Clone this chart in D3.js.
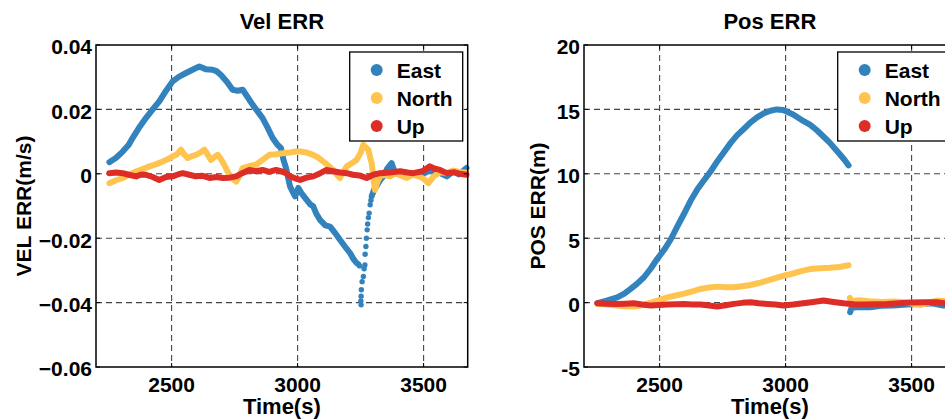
<!DOCTYPE html>
<html lang="en">
<head>
<meta charset="utf-8">
<title>Vel / Pos ERR</title>
<script src="https://cdn.jsdelivr.net/npm/d3@7"></script>
<style>
body { margin: 0; background: #fff; }
svg text { font-family: "Liberation Sans", Arial, sans-serif; font-weight: bold; fill: #000; }
</style>
</head>
<body>
<div id="vis"></div>
<script>

/* Data */
/* =========================== */

var xTicks = [2500, 3000, 3500];
var velTicks = [-0.06, -0.04, -0.02, 0, 0.02, 0.04];
var posTicks = [-5, 0, 5, 10, 15, 20];
var seriesNames = ['East', 'North', 'Up'];
var seriesColors = ['#3182bd', '#fec44f', '#de2d26'];

// velocity error, [time s, value *1e-3 m/s]
var velEast = [[2253,3.6],[2280,5.0],[2306,6.9],[2330,9.0],[2345,11.1],[2370,14.2],[2398,17.3],[2425,20.0],[2451,22.5],[2478,25.8],
	[2504,28.7],[2530,30.2],[2557,31.3],[2585,32.4],[2610,33.3],[2635,32.5],[2663,32.3],[2680,31.8],[2696,30.7],[2720,28.5],
	[2742,26.1],[2762,25.8],[2782,26.1],[2800,24.0],[2822,21.4],[2840,19.5],[2861,17.3],[2880,14.5],[2901,11.1],[2920,9.0],
	[2934,8.0],[2944,4.3],[2954,1.8],[2970,-3.9],[2980,-5.5],[2990,-7.0],[3003,-4.4],[3015,-6.0],[3036,-8.1],[3050,-9.5],
	[3062,-10.1],[3075,-12.5],[3089,-14.3],[3110,-16.0],[3129,-16.4],[3150,-18.5],[3168,-20.5],[3190,-22.8],[3208,-24.6],[3222,-26.5],
	[3234,-27.7],[3240,-28.0]];
var velEastSparse = [[3246,-28.6],[3251,-39.5],[3252,-40.7],[3252,-38.0],[3253,-36.0],[3256,-33.5],[3261,-31.9],[3264,-29.5],
	[3267,-28.3],[3268,-25.0],[3271,-22.6],[3273,-20.0],[3276,-17.4],[3278,-15.6],[3281,-13.6],[3284,-12.2],[3288,-9.6],[3291,-8.2]];
var velEastTail = [[3294,-7.0],[3303,-5.0],[3313,-3.9],[3327,-2.0],[3340,-0.8],[3355,1.5],[3373,3.3],[3387,0.2],[3405,-0.3],
	[3425,0.5],[3447,-0.5],[3470,0.3],[3495,-0.2],[3525,1.2],[3545,0.6],[3565,0.2],[3592,-0.8],[3618,0.8],[3640,-0.2],[3670,1.8]];
var velNorth = [[2253,-2.9],[2280,-2.0],[2306,-1.3],[2330,-0.3],[2359,0.7],[2385,1.5],[2412,2.3],[2440,3.0],[2465,3.8],[2485,4.5],
	[2504,5.4],[2520,6.0],[2537,7.5],[2550,6.0],[2564,4.9],[2580,5.5],[2597,5.9],[2612,6.5],[2630,7.5],[2643,6.0],
	[2656,4.3],[2670,5.2],[2683,5.9],[2696,4.5],[2709,2.8],[2720,1.0],[2729,-0.3],[2742,-1.5],[2756,-2.4],[2770,-0.5],
	[2782,1.8],[2808,2.4],[2835,2.8],[2861,4.3],[2888,5.9],[2914,6.1],[2941,6.4],[2970,6.6],[2994,6.9],[3010,6.9],
	[3036,6.6],[3062,5.9],[3082,5.0],[3102,3.8],[3122,2.5],[3142,1.2],[3155,-0.2],[3168,-1.3],[3182,0.8],[3195,2.3],
	[3215,3.3],[3234,4.3],[3250,6.5],[3261,9.0],[3271,8.2],[3281,7.5],[3288,5.0],[3294,3.3],[3300,-1.0],[3307,-5.0],
	[3317,-2.5],[3327,-0.8],[3345,-0.3],[3367,-0.8],[3390,0.2],[3410,-0.5],[3433,-1.3],[3455,-0.2],[3480,-0.8],[3500,-1.5],
	[3519,-2.9],[3540,-0.8],[3565,0.5],[3590,0.2],[3618,1.0],[3645,0.6],[3670,0.3]];
var velUp = [[2253,0.2],[2280,0.4],[2306,0.2],[2330,-0.3],[2359,-0.8],[2380,-0.2],[2398,-0.3],[2425,-1.0],[2451,-1.9],[2478,-1.0],
	[2504,-0.8],[2525,-0.2],[2544,0.2],[2570,-0.3],[2597,-0.8],[2620,-0.6],[2650,-1.3],[2680,-1.0],[2703,-1.3],[2730,-1.2],
	[2756,-0.8],[2780,0.2],[2808,1.2],[2835,0.8],[2861,1.2],[2888,0.6],[2914,1.2],[2935,0.8],[2954,0.2],[2970,-0.8],
	[2990,-1.4],[3010,-1.9],[3036,-1.2],[3062,-0.8],[3090,0.2],[3115,1.2],[3140,0.8],[3168,0.4],[3195,0.2],[3220,-0.3],
	[3245,-0.5],[3274,-1.3],[3300,-0.3],[3327,0.2],[3365,0.4],[3407,0.8],[3435,0.4],[3460,0.2],[3495,0.8],[3525,2.3],
	[3545,1.6],[3565,1.2],[3592,0.2],[3620,0.5],[3645,0.0],[3670,-0.3]];

// position error, [time s, value m]
var posEast = [[2253,-0.05],[2290,0.15],[2332,0.4],[2360,0.7],[2385,1.06],[2410,1.45],[2438,1.97],[2465,2.65],[2491,3.4],[2518,4.1],
	[2544,4.9],[2570,5.9],[2597,6.9],[2623,7.9],[2650,8.8],[2676,9.5],[2703,10.2],[2730,11.0],[2756,11.7],[2782,12.4],
	[2808,13.0],[2835,13.5],[2861,14.0],[2888,14.4],[2914,14.7],[2940,14.9],[2965,15.0],[2990,14.95],[3030,14.6],[3070,14.1],
	[3098,13.8],[3123,13.4],[3150,12.9],[3176,12.4],[3196,11.95],[3216,11.5],[3235,11.05],[3250,10.65]];
var posEastTail = [[3256,-0.75],[3262,-0.4],[3290,-0.35],[3335,-0.36],[3380,-0.25],[3428,-0.23],[3480,-0.15],[3533,-0.1],[3580,-0.05],
	[3626,-0.23],[3660,-0.15]];
var posNorth = [[2253,-0.1],[2290,-0.15],[2332,-0.23],[2365,-0.28],[2398,-0.3],[2430,-0.2],[2465,0.0],[2498,0.2],[2531,0.4],[2564,0.55],
	[2597,0.7],[2630,0.88],[2663,1.06],[2696,1.18],[2729,1.24],[2762,1.2],[2795,1.19],[2828,1.27],[2861,1.37],[2894,1.52],
	[2927,1.7],[2960,1.9],[2994,2.1],[3018,2.2],[3057,2.42],[3097,2.6],[3136,2.66],[3176,2.7],[3214,2.76],[3250,2.9]];
var posNorthTail = [[3255,0.36],[3262,0.1],[3290,0.18],[3330,0.1],[3380,0.05],[3430,0.08],[3480,0.0],[3533,-0.2],[3580,0.05],
	[3600,0.15],[3640,0.12],[3670,0.05]];
var posUp = [[2253,-0.05],[2290,-0.08],[2332,-0.1],[2365,-0.08],[2398,-0.05],[2430,-0.15],[2465,-0.23],[2498,-0.18],[2531,-0.15],[2564,-0.12],
	[2597,-0.1],[2630,-0.14],[2663,-0.15],[2696,-0.22],[2729,-0.3],[2762,-0.2],[2795,-0.1],[2828,-0.02],[2861,0.03],[2894,-0.05],
	[2927,-0.1],[2960,-0.15],[2990,-0.23],[3030,-0.15],[3070,-0.05],[3110,0.05],[3150,0.16],[3190,0.05],[3230,-0.05],[3270,-0.12],
	[3310,-0.15],[3355,-0.12],[3402,-0.1],[3450,-0.05],[3495,0.0],[3550,0.02],[3600,0.03],[3635,-0.05],[3670,-0.02]];


/* Globals and SVG */
/* =============== */

var W = 945, H = 419;
var plotW = 371.7, plotH = 322;
var xDomain = [2200, 3675];

var svg = d3.select('#vis')
	.append('svg')
		.attr('width', W)
		.attr('height', H);


/* Functions */
/* ========= */

function drawPanel(opt) {

	var g = svg.append('g')
		.attr('transform', 'translate(' + opt.left + ', 45)');

	var x = d3.scaleLinear().domain(xDomain).range([0, plotW]);
	var y = d3.scaleLinear().domain(opt.yDomain).range([plotH, 0]);

	// dashed grid
	g.append('g').selectAll('line.gx')
		.data(xTicks)
		.enter().append('line')
			.attr('x1', function(d) { return x(d); })
			.attr('x2', function(d) { return x(d); })
			.attr('y1', 0).attr('y2', plotH)
			.attr('stroke', '#444').attr('stroke-width', 1.1)
			.attr('stroke-dasharray', '6,4');

	g.append('g').selectAll('line.gy')
		.data(opt.yTicks.slice(1, -1))
		.enter().append('line')
			.attr('x1', 0).attr('x2', plotW)
			.attr('y1', function(d) { return y(d); })
			.attr('y2', function(d) { return y(d); })
			.attr('stroke', '#444').attr('stroke-width', 1.1)
			.attr('stroke-dasharray', '6,4');

	var line = d3.line()
		.x(function(d) { return x(d[0]); })
		.y(function(d) { return y(d[1] * opt.unit); })
		.curve(d3.curveLinear);

	// series
	opt.lines.forEach(function(s) {
		g.append('path')
			.datum(s.data)
			.attr('d', line)
			.attr('fill', 'none')
			.attr('stroke', seriesColors[s.i])
			.attr('stroke-width', 6)
			.attr('stroke-linecap', 'round')
			.attr('stroke-linejoin', 'round');
	});

	opt.dots.forEach(function(s) {
		g.append('g').selectAll('circle')
			.data(s.data)
			.enter().append('circle')
				.attr('cx', function(d) { return x(d[0]); })
				.attr('cy', function(d) { return y(d[1] * opt.unit); })
				.attr('r', 2.7)
				.attr('fill', seriesColors[s.i]);
	});

	// box
	g.append('rect')
		.attr('width', plotW).attr('height', plotH)
		.attr('fill', 'none').attr('stroke', '#000').attr('stroke-width', 1.5);

	// inward ticks
	var tk = 4;
	xTicks.forEach(function(t) {
		g.append('line').attr('x1', x(t)).attr('x2', x(t)).attr('y1', plotH).attr('y2', plotH - tk).attr('stroke', '#000');
		g.append('line').attr('x1', x(t)).attr('x2', x(t)).attr('y1', 0).attr('y2', tk).attr('stroke', '#000');
	});
	opt.yTicks.forEach(function(t) {
		g.append('line').attr('x1', 0).attr('x2', tk).attr('y1', y(t)).attr('y2', y(t)).attr('stroke', '#000');
		g.append('line').attr('x1', plotW).attr('x2', plotW - tk).attr('y1', y(t)).attr('y2', y(t)).attr('stroke', '#000');
	});

	// tick labels
	g.append('g').selectAll('text')
		.data(xTicks)
		.enter().append('text')
			.attr('x', function(d) { return x(d); })
			.attr('y', plotH + 25)
			.attr('text-anchor', 'middle')
			.style('font-size', '21px')
			.text(function(d) { return d; });

	g.append('g').selectAll('text')
		.data(opt.yTicks)
		.enter().append('text')
			.attr('x', -4)
			.attr('y', function(d) { return y(d); })
			.attr('dy', '0.45em')
			.attr('text-anchor', 'end')
			.style('font-size', '21px')
			.text(opt.fmt);

	// title and labels
	g.append('text')
		.attr('x', plotW / 2).attr('y', -16)
		.attr('text-anchor', 'middle')
		.style('font-size', '22px')
		.text(opt.title);

	g.append('text')
		.attr('x', plotW / 2).attr('y', plotH + 47)
		.attr('text-anchor', 'middle')
		.style('font-size', '22px')
		.text('Time(s)');

	g.append('text')
		.attr('transform', 'translate(' + opt.yLabelX + ', ' + plotH / 2 + ') rotate(-90)')
		.attr('text-anchor', 'middle')
		.style('font-size', '21px')
		.text(opt.yLabel);

	// legend
	var lg = g.append('g').attr('transform', 'translate(' + (plotW - 118) + ', 7)');
	lg.append('rect')
		.attr('width', 113).attr('height', 89)
		.attr('fill', '#fff').attr('stroke', '#000').attr('stroke-width', 1.3);
	seriesNames.forEach(function(name, i) {
		lg.append('circle')
			.attr('cx', 27).attr('cy', 18 + i * 28).attr('r', 6)
			.attr('fill', seriesColors[i]);
		lg.append('text')
			.attr('x', 47).attr('y', 18 + i * 28).attr('dy', '0.36em')
			.style('font-size', '21px')
			.text(name);
	});

} // drawPanel()


/* Build */
/* ===== */

drawPanel({
	left: 96,
	yDomain: [-0.06, 0.04],
	yTicks: velTicks,
	unit: 0.001,
	fmt: function(d) { return d === 0 ? '0' : d3.format('.2f')(d); },
	title: 'Vel ERR',
	yLabel: 'VEL ERR(m/s)',
	yLabelX: -65,
	lines: [
		{ i: 0, data: velEast },
		{ i: 0, data: velEastTail },
		{ i: 1, data: velNorth },
		{ i: 2, data: velUp }
	],
	dots: [
		{ i: 0, data: velEastSparse }
	]
});

drawPanel({
	left: 584,
	yDomain: [-5, 20],
	yTicks: posTicks,
	unit: 1,
	fmt: function(d) { return d; },
	title: 'Pos ERR',
	yLabel: 'POS ERR(m)',
	yLabelX: -39,
	lines: [
		{ i: 0, data: posEast },
		{ i: 0, data: posEastTail },
		{ i: 1, data: posNorth },
		{ i: 1, data: posNorthTail },
		{ i: 2, data: posUp }
	],
	dots: []
});

</script>
</body>
</html>
